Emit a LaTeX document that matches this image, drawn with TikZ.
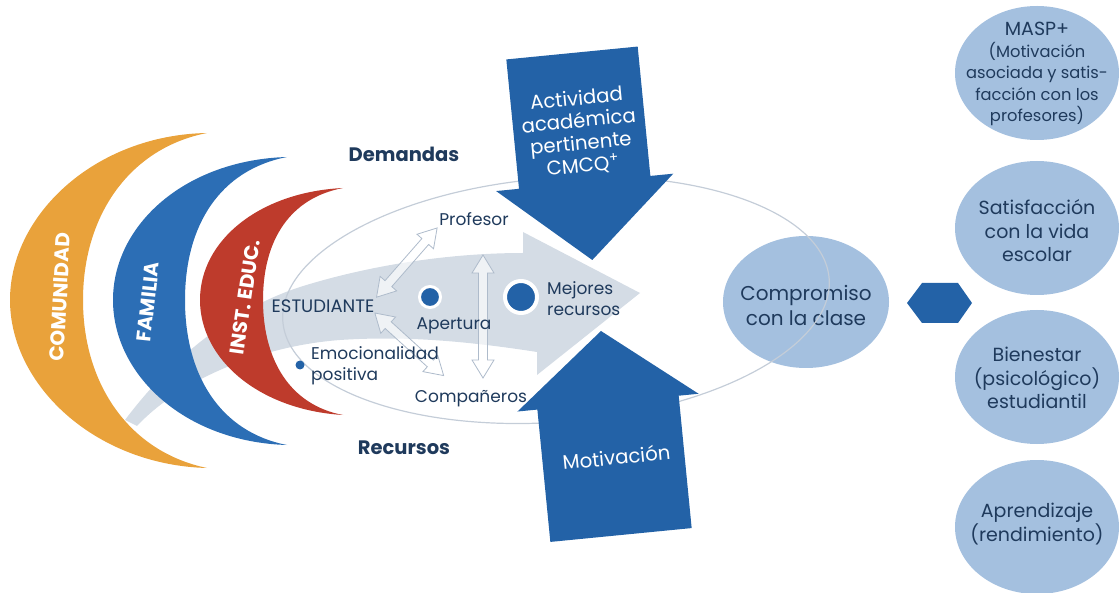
\documentclass[tikz,border=0pt]{standalone}
\usepackage{fontspec}
\setmainfont{Poppins}
\usepackage{xcolor}
\usetikzlibrary{shapes.geometric,positioning}

\definecolor{naranja}{HTML}{E9A23B}
\definecolor{azulfam}{HTML}{2C6EB5}
\definecolor{rojoie}{HTML}{BE3B2C}
\definecolor{azulosc}{HTML}{2362A7}
\definecolor{celeste}{HTML}{A4C0DF}
\definecolor{banda}{HTML}{D4DCE5}
\definecolor{contorno}{HTML}{C4CDD8}
\definecolor{borde}{HTML}{AEBBCB}
\definecolor{tinta}{HTML}{1F3A5C}

\tikzset{
  etiq/.style={text=tinta, inner sep=1pt, font=\fontsize{17}{21}\selectfont},
  titulo/.style={text=tinta, inner sep=1pt, font=\fontsize{19.5}{19.5}\selectfont\bfseries},
  luna/.style={text=white, inner sep=0pt, font=\fontsize{20}{20}\selectfont\bfseries},
  punto/.style={circle, fill=azulosc, draw=white, inner sep=0pt},
  restxt/.style={align=center, text=tinta, inner sep=0pt,
    font=\fontsize{19}{23.5}\selectfont},
  blanco/.style={text=white, align=center, transform shape,
    font=\fontsize{19.7}{22.5}\selectfont},
  % flecha doble hueca, #1 = largo
  dflecha/.pic={
    \filldraw[fill=white, fill opacity=0.65, draw=borde, line width=0.8pt]
      ({-#1/2},0) -- ++(18,-11) -- ++(0,6.5) -- ({#1/2-18},-4.5) -- ++(0,-6.5)
      -- ({#1/2},0) -- ++(-18,11) -- ++(0,-6.5) -- ({-#1/2+18},4.5)
      -- ++(0,6.5) -- cycle;
  }
}

\begin{document}
\begin{tikzpicture}[x=1pt,y=-1pt]
\useasboundingbox (0,0) rectangle (1119,593);

% banda gris de fondo
\fill[banda] (125,420) .. controls (170,360) and (230,310) .. (300,287)
  .. controls (370,265) and (450,253) .. (523,253) -- (523,232) -- (640,293)
  -- (537,375) -- (537,352) .. controls (460,340) and (400,336) .. (340,340)
  .. controls (260,346) and (180,380) .. (137,426) -- cycle;

% lunas
\fill[naranja] (207,133) .. controls (95,135) and (10,215) .. (10,300)
  .. controls (10,385) and (95,465) .. (207,468)
  .. controls (130,452) and (83,385) .. (83,300)
  .. controls (83,215) and (130,148) .. (207,133) -- cycle;
\fill[azulfam] (287,157) .. controls (185,160) and (113,225) .. (113,300)
  .. controls (113,375) and (185,442) .. (287,445)
  .. controls (220,432) and (185,375) .. (185,300)
  .. controls (185,225) and (220,170) .. (287,157) -- cycle;
\fill[rojoie] (343,188) .. controls (260,192) and (200,240) .. (200,300)
  .. controls (200,360) and (260,410) .. (343,415)
  .. controls (290,405) and (263,360) .. (263,300)
  .. controls (263,240) and (290,198) .. (343,188) -- cycle;
\node[luna, rotate=87] (comu) at (60,297) {COMUNIDAD};
\node[luna, rotate=84] (fami) at (148,302) {FAMILIA};
\node[luna, rotate=82] (inst) at (245,297) {INST. EDUC.};

% compromiso
\fill[celeste] (806,302) ellipse [x radius=83, y radius=66];
\node[restxt, font=\fontsize{20}{25}\selectfont] (compr) at (806,305)
  {Compromiso\\con la clase};

% contorno
\draw[contorno, line width=1.2pt, rotate around={4.5:(556,300)}]
  (556,300) ellipse [x radius=274, y radius=122];

% actores
\node[etiq, font=\fontsize{18}{21}\selectfont] (estud) at (323,306) {ESTUDIANTE};
\node[etiq] (prof) at (474,219) {Profesor};
\node[etiq] (comp) at (471,399) {Compañeros};

% flechas dobles
\coordinate (ccomp) at (443,375);
\coordinate (vsup) at (483,255);
\coordinate (vinf) at (483,378);
\path (estud.north east) -- (prof.south west) pic[sloped, midway] (fprof) {dflecha=92};
\path (estud.south east) -- (ccomp) pic[sloped, midway] (fcomp) {dflecha=93};
\path (vsup) -- (vinf) pic[sloped, midway] (fvert) {dflecha=123};

% textos
\node[etiq] (aper) at (454,326) {Apertura};
\node[etiq, anchor=west, align=left] (mejo) at (546,299) {Mejores\\recursos};
\node[etiq, anchor=west, align=left] (emoc) at (310,366) {Emocionalidad\\positiva};
\node[titulo] (dema) at (404,154) {Demandas};
\node[titulo] (recu) at (404,448) {Recursos};

% puntos
\node[punto, minimum size=21pt, line width=3pt] (papert) at (430,297) {};
\node[punto, minimum size=32pt, line width=4pt] (pmejor) at (521,297) {};
\node[punto, draw=none, minimum size=9pt] (pemoc) at (300,365) {};

% flechas oscuras
\begin{scope}[shift={(572,53)}, rotate=5.6]
\fill[azulosc] (-66,0) -- (66,0) -- (66,130) -- (89,130) -- (0,208)
  -- (-89,130) -- (-66,130) -- cycle;
\node[blanco] (activ) at (0,80)
  {Actividad\\académica\\pertinente\\CMCQ\textsuperscript{+}};
\end{scope}
\begin{scope}[shift={(621,535)}, rotate=5.6]
\fill[azulosc] (-71,0) -- (71,0) -- (71,-133) -- (91,-133) -- (0,-205)
  -- (-91,-133) -- (-71,-133) -- cycle;
\node[blanco] (motiv) at (3,-78) {Motivación};
\end{scope}

% hexagono
\fill[azulosc] (907,303) -- (922,283) -- (958,283) -- (972,303) -- (958,323)
  -- (922,323) -- cycle;

% resultados
\foreach \yc in {73,228,377,527}
  \fill[celeste] (1037,\yc) ellipse [x radius=82, y radius=67];
\node[restxt, font=\fontsize{16.3}{21.5}\selectfont] (masp) at (1037,74)
  {{\fontsize{19}{21.5}\selectfont MASP+}\\(Motivación\\asociada y satis-\\facción con los\\profesores)};
\node[restxt] (satis) at (1037,231) {Satisfacción\\con la vida\\escolar};
\node[restxt] (bien) at (1037,378) {Bienestar\\(psicológico)\\estudiantil};
\node[restxt] (apre) at (1037,524) {Aprendizaje\\(rendimiento)};

\end{tikzpicture}
\end{document}
